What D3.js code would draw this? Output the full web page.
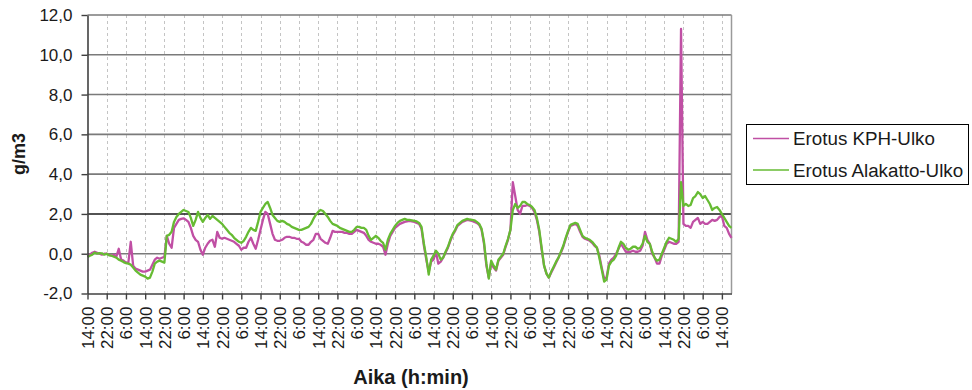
<!DOCTYPE html>
<html><head><meta charset="utf-8">
<script src="https://cdn.jsdelivr.net/npm/d3@7"></script>
<style>body{margin:0;background:#fff;} svg{display:block;font-family:"Liberation Sans",Arial,sans-serif;}</style>
</head><body>
<svg id="chart" width="972" height="390"></svg>
<script>
// ---------- data ----------
const seriesNames = ["Erotus KPH-Ulko", "Erotus Alakatto-Ulko"];
const seriesColors = ["#c04fa4", "#66bb33"];
const tickLabels = ["14:00","22:00","6:00","14:00","22:00","6:00","14:00","22:00","6:00","14:00","22:00","6:00",
  "14:00","22:00","6:00","14:00","22:00","6:00","14:00","22:00","6:00","14:00","22:00","6:00",
  "14:00","22:00","6:00","14:00","22:00","6:00","14:00","22:00","6:00","14:00"];
const yTicks = [-2, 0, 2, 4, 6, 8, 10, 12];
// hourly values, starting 14:00 of day 0
const kph = [
-0.15,-0.05,0.05,0.10,0.05,0.00,-0.05,0.00,0.00,-0.05,-0.10,-0.05,-0.15,0.25,-0.30,-0.35,-0.45,-0.45,0.60,-0.60,-0.75,-0.80,-0.85,-0.90,
-0.90,-0.85,-0.80,-0.55,-0.30,-0.20,-0.25,-0.20,-0.15,0.90,0.50,0.30,1.30,1.50,1.70,1.75,1.78,1.70,1.60,1.30,0.90,0.70,0.60,0.20,
-0.05,0.30,0.50,0.65,0.70,0.35,1.10,0.80,0.75,0.80,0.75,0.70,0.65,0.60,0.50,0.40,0.20,0.30,0.30,0.60,0.80,0.50,0.25,0.70,
1.20,1.70,2.10,2.00,1.50,1.00,0.70,0.65,0.65,0.70,0.80,0.85,0.85,0.80,0.80,0.75,0.75,0.60,0.55,0.45,0.45,0.60,0.70,1.00,
1.00,0.75,0.65,0.55,0.50,0.80,1.15,1.10,1.10,1.10,1.10,1.05,1.05,1.00,1.00,1.10,1.20,1.15,1.10,1.05,0.90,0.70,0.60,0.55,
0.50,0.50,0.45,0.35,-0.05,0.50,0.90,1.10,1.30,1.40,1.50,1.55,1.60,1.62,1.65,1.62,1.60,1.55,1.50,1.25,0.40,-0.30,-0.90,-0.40,
-0.30,0.10,-0.50,-0.40,-0.20,0.05,0.30,0.65,0.95,1.15,1.40,1.50,1.60,1.65,1.70,1.68,1.65,1.60,1.55,1.45,1.20,0.50,-0.60,-1.20,
-0.45,-0.70,-0.85,-0.35,-0.20,-0.05,0.35,0.70,1.20,3.60,2.90,2.20,2.00,2.40,2.40,2.45,2.40,2.30,2.10,1.70,1.10,0.20,-0.60,-1.00,
-1.20,-0.95,-0.70,-0.45,-0.20,0.05,0.35,0.75,1.10,1.40,1.45,1.50,1.40,1.10,0.85,0.75,0.70,0.65,0.55,0.40,0.30,-0.10,-0.70,-1.25,
-1.20,-0.50,-0.30,-0.20,0.00,0.25,0.50,0.30,0.10,0.10,0.10,0.15,0.10,0.10,0.15,0.40,1.10,0.70,0.50,0.00,-0.20,-0.50,-0.50,-0.10,
0.20,0.50,0.60,0.55,0.50,0.50,0.60,11.30,1.50,1.40,1.40,1.30,1.60,1.70,1.80,1.50,1.60,1.50,1.50,1.60,1.70,1.65,1.70,1.85,
1.90,1.40,1.30,1.00,0.80
];
const alakatto = [
-0.17,-0.10,-0.05,0.05,0.00,0.03,0.02,-0.05,0.00,-0.08,-0.10,-0.15,-0.20,-0.30,-0.35,-0.42,-0.47,-0.50,-0.55,-0.70,-0.85,-0.95,-1.05,-1.10,
-1.15,-1.25,-1.20,-0.90,-0.50,-0.40,-0.35,-0.40,-0.45,0.90,0.95,1.10,1.60,1.85,2.00,2.10,2.20,2.15,2.10,1.80,1.40,1.70,2.10,1.80,
1.60,1.80,1.95,1.75,1.90,1.80,1.70,1.60,1.50,1.35,1.20,1.05,0.95,0.80,0.70,0.60,0.55,0.65,0.85,1.10,1.30,1.20,1.15,1.60,
2.10,2.30,2.50,2.60,2.30,1.95,1.80,1.65,1.60,1.65,1.60,1.50,1.45,1.35,1.30,1.25,1.20,1.20,1.25,1.30,1.35,1.50,1.75,1.95,
2.10,2.20,2.15,2.00,1.85,1.65,1.50,1.45,1.40,1.30,1.25,1.20,1.15,1.10,1.10,1.20,1.35,1.35,1.30,1.30,1.20,0.90,0.70,0.80,
0.90,0.80,0.65,0.55,0.20,0.70,1.00,1.20,1.40,1.55,1.65,1.70,1.75,1.70,1.70,1.68,1.65,1.62,1.55,1.35,0.50,-0.20,-1.05,-0.30,
-0.10,0.15,0.00,-0.30,-0.20,0.10,0.35,0.70,1.00,1.20,1.45,1.55,1.65,1.70,1.75,1.72,1.70,1.68,1.60,1.50,1.25,0.60,-0.50,-1.25,
-0.35,-0.60,-0.80,-0.30,-0.15,0.00,0.40,0.75,1.20,2.20,2.50,2.30,2.40,2.60,2.60,2.50,2.45,2.35,2.20,1.80,1.20,0.30,-0.60,-1.00,
-1.20,-0.90,-0.65,-0.40,-0.20,0.10,0.40,0.80,1.15,1.45,1.50,1.55,1.50,1.20,0.90,0.80,0.75,0.70,0.60,0.45,0.30,-0.20,-0.80,-1.40,
-1.30,-0.60,-0.40,-0.30,-0.10,0.30,0.60,0.50,0.30,0.20,0.25,0.35,0.35,0.25,0.30,0.50,0.90,0.60,0.50,0.10,-0.20,-0.35,-0.30,0.00,
0.30,0.60,0.80,0.75,0.70,0.60,0.75,3.60,2.40,2.50,2.40,2.45,2.80,2.90,3.10,3.00,2.80,2.90,2.70,2.50,2.20,2.30,2.35,2.20,
2.00,1.80,1.60,1.40,1.30
];

// ---------- chart ----------
const svg = d3.select("#chart");
const L = 87.5, R = 731.5, T = 15, B = 293.5;
const x = d3.scaleLinear().domain([0, kph.length - 1]).range([L, R]);
const y = d3.scaleLinear().domain([-2, 12]).range([B, T]);
const tickHours = tickLabels.map((_, i) => i * 8);
const loc = d3.formatLocale({decimal: ",", thousands: " ", grouping: [3], currency: ["", ""], minus: "-"});
const fmt = loc.format(".1f");

// vertical dashed grid
svg.append("g").selectAll("line").data(tickHours.slice(1)).join("line")
  .attr("x1", d => Math.round(x(d)) + 0.5).attr("x2", d => Math.round(x(d)) + 0.5)
  .attr("y1", T).attr("y2", B)
  .attr("stroke", "#c4c4c4").attr("stroke-dasharray", "3,3").attr("stroke-width", 1);

// horizontal grid
svg.append("g").selectAll("line").data(yTicks.filter(d => d > -2)).join("line")
  .attr("x1", L).attr("x2", R)
  .attr("y1", d => y(d)).attr("y2", d => y(d))
  .attr("stroke", d => d === 2 ? "#1a1a1a" : "#7a7a7a").attr("stroke-width", 1.6);

// right border
svg.append("line").attr("x1", R).attr("x2", R).attr("y1", T).attr("y2", B)
  .attr("stroke", "#9a9a9a").attr("stroke-width", 1.5);

// series lines
const line = d3.line().x((d, i) => x(i)).y(d => y(d));
[kph, alakatto].forEach((vals, k) => {
  svg.append("path").datum(vals).attr("d", line)
    .attr("fill", "none").attr("stroke", seriesColors[k])
    .attr("stroke-width", 2.3).attr("stroke-linejoin", "round");
});

// y axis
const ya = svg.append("g").attr("transform", `translate(${L},0)`)
  .call(d3.axisLeft(y).tickValues(yTicks).tickSize(6).tickSizeOuter(0).tickPadding(9).tickFormat(fmt));
ya.select(".domain").attr("stroke", "#404040").attr("stroke-width", 1.6);
ya.selectAll(".tick line").attr("stroke", "#404040").attr("stroke-width", 1.4);
ya.selectAll("text").attr("font-size", 17).attr("fill", "#1a1a1a")
  .attr("font-family", '"Liberation Sans",Arial,sans-serif');

// x axis
const xa = svg.append("g").attr("transform", `translate(0,${B})`)
  .call(d3.axisBottom(x).tickValues(tickHours).tickSize(6).tickSizeOuter(0).tickFormat((d, i) => tickLabels[i]));
xa.select(".domain").attr("stroke", "#404040").attr("stroke-width", 1.6);
xa.selectAll(".tick line").attr("stroke", "#404040").attr("stroke-width", 1.4);
xa.selectAll("text").attr("font-size", 17).attr("fill", "#1a1a1a")
  .attr("font-family", '"Liberation Sans",Arial,sans-serif')
  .attr("transform", "rotate(-90)").attr("text-anchor", "end")
  .attr("x", -13).attr("y", 0).attr("dy", "0.35em");

// axis titles
svg.append("text").attr("x", 411).attr("y", 384).attr("text-anchor", "middle")
  .attr("font-size", 20).attr("font-weight", "bold").attr("fill", "#1a1a1a").text("Aika (h:min)");
svg.append("text").attr("transform", "translate(25,154) rotate(-90)").attr("text-anchor", "middle")
  .attr("font-size", 18).attr("font-weight", "bold").attr("fill", "#1a1a1a").text("g/m3");

// legend
const lg = svg.append("g");
lg.append("rect").attr("x", 746.5).attr("y", 124.5).attr("width", 222).attr("height", 60)
  .attr("fill", "#fff").attr("stroke", "#000").attr("stroke-width", 1);
seriesNames.forEach((n, k) => {
  const cy = 138.5 + k * 31.5;
  lg.append("line").attr("x1", 753).attr("x2", 789).attr("y1", cy).attr("y2", cy)
    .attr("stroke", seriesColors[k]).attr("stroke-width", 1.5);
  lg.append("text").attr("x", 793).attr("y", cy + 6.5).attr("font-size", 18.8).attr("fill", "#1a1a1a").text(n);
});
</script>
</body></html>
